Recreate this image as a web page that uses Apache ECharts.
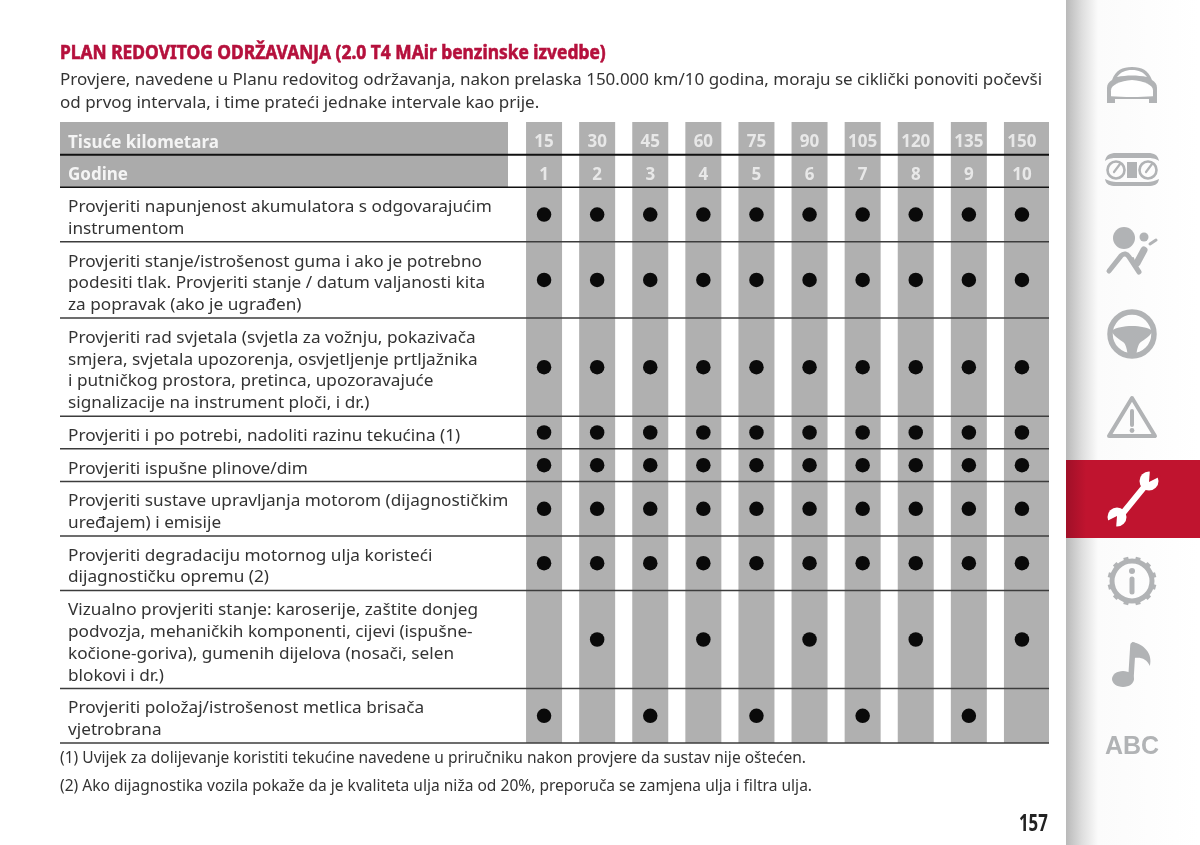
<!DOCTYPE html>
<html>
<head>
<meta charset="utf-8">
<title>Plan redovitog održavanja</title>
<script src="https://cdn.jsdelivr.net/npm/echarts@6/dist/echarts.min.js"></script>
<style>
    html, body { margin: 0; padding: 0; background: #fff; }
    #chart { width: 1200px; height: 845px; }
</style>
</head>
<body>
<div id="chart"></div>
<script>
const kmTicks = ["15", "30", "45", "60", "75", "90", "105", "120", "135", "150"];
const yearTicks = ["1", "2", "3", "4", "5", "6", "7", "8", "9", "10"];
const headerLabels = ["Tisuće kilometara", "Godine"];

const serviceLabels = [
    "Provjeriti napunjenost akumulatora s odgovarajućim\ninstrumentom",
    "Provjeriti stanje/istrošenost guma i ako je potrebno\npodesiti tlak. Provjeriti stanje / datum valjanosti kita\nza popravak (ako je ugrađen)",
    "Provjeriti rad svjetala (svjetla za vožnju, pokazivača\nsmjera, svjetala upozorenja, osvjetljenje prtljažnika\ni putničkog prostora, pretinca, upozoravajuće\nsignalizacije na instrument ploči, i dr.)",
    "Provjeriti i po potrebi, nadoliti razinu tekućina (1)",
    "Provjeriti ispušne plinove/dim",
    "Provjeriti sustave upravljanja motorom (dijagnostičkim\nuređajem) i emisije",
    "Provjeriti degradaciju motornog ulja koristeći\ndijagnostičku opremu (2)",
    "Vizualno provjeriti stanje: karoserije, zaštite donjeg\npodvozja, mehaničkih komponenti, cijevi (ispušne-\nkočione-goriva), gumenih dijelova (nosači, selen\nblokovi i dr.)",
    "Provjeriti položaj/istrošenost metlica brisača\nvjetrobrana"
];

// 1 = provjera u tom intervalu
const serviceMarks = [
    [1, 1, 1, 1, 1, 1, 1, 1, 1, 1],
    [1, 1, 1, 1, 1, 1, 1, 1, 1, 1],
    [1, 1, 1, 1, 1, 1, 1, 1, 1, 1],
    [1, 1, 1, 1, 1, 1, 1, 1, 1, 1],
    [1, 1, 1, 1, 1, 1, 1, 1, 1, 1],
    [1, 1, 1, 1, 1, 1, 1, 1, 1, 1],
    [1, 1, 1, 1, 1, 1, 1, 1, 1, 1],
    [0, 1, 0, 1, 0, 1, 0, 1, 0, 1],
    [1, 0, 1, 0, 1, 0, 1, 0, 1, 0]
];

const titleText = "PLAN REDOVITOG ODRŽAVANJA (2.0 T4 MAir benzinske izvedbe)";
const introLines = [
    "Provjere, navedene u Planu redovitog održavanja, nakon prelaska 150.000 km/10 godina, moraju se ciklički ponoviti počevši",
    "od prvog intervala, i time prateći jednake intervale kao prije."
];
const footnotes = [
    "(1) Uvijek za dolijevanje koristiti tekućine navedene u priručniku nakon provjere da sustav nije oštećen.",
    "(2) Ako dijagnostika vozila pokaže da je kvaliteta ulja niža od 20%, preporuča se zamjena ulja i filtra ulja."
];

const FONT = '"Noto Sans", sans-serif';
const BODY_FONT = "17px " + FONT;
const NAV_GREY = "#b1b3b5";
const NAV_RED = "#c0142f";

// y axis counts text lines: every row is its lines plus half a line of padding
const headerSpan = 1.5;
const rowSpans = serviceLabels.map(s => s.split("\n").length + 0.5);
const rowTops = [];
let runningTop = headerSpan * 2;
rowSpans.forEach(span => {
    rowTops.push(runningTop);
    runningTop += span;
});
const tableEnd = runningTop;

const dotData = [];
serviceMarks.forEach((marks, row) => {
    marks.forEach((on, col) => {
        if (on) dotData.push([col, rowTops[row] + rowSpans[row] / 2]);
    });
});

const TABLE_LEFT = 60;
const HEADER_RIGHT = 508;
const TABLE_RIGHT = 1049;
const LABEL_X = 68;

function renderColumn(params, api) {
    const col = api.value(0);
    const top = api.coord([col, 0]);
    const bottom = api.coord([col, tableEnd]);
    const left = top[0] - 18;
    const right = col === kmTicks.length - 1 ? TABLE_RIGHT : top[0] + 18;
    return {
        type: "rect",
        shape: { x: left, y: top[1], width: right - left, height: bottom[1] - top[1] },
        style: { fill: "#b0b0b0" }
    };
}

function renderHeaderBlock(params, api) {
    const top = api.coord([0, 0]);
    const bottom = api.coord([0, headerSpan * 2]);
    return {
        type: "rect",
        shape: { x: TABLE_LEFT, y: top[1], width: HEADER_RIGHT - TABLE_LEFT, height: bottom[1] - top[1] },
        style: { fill: "#ababab" }
    };
}

function renderRule(params, api) {
    const y = api.coord([0, api.value(0)])[1];
    const strong = params.dataIndex < 2;
    return {
        type: "line",
        shape: { x1: TABLE_LEFT, y1: y, x2: TABLE_RIGHT, y2: y },
        style: {
            stroke: strong ? "#111" : "#3c3c3c",
            lineWidth: params.dataIndex === 0 ? 2 : 1.5
        }
    };
}

function renderRowLabel(params, api) {
    const y = api.coord([0, api.value(0)])[1];
    return {
        type: "text",
        x: LABEL_X,
        y: y + 3.5,
        scaleX: 1.012,
        style: {
            text: serviceLabels[params.dataIndex],
            font: BODY_FONT,
            fill: "#333",
            lineHeight: 21.8,
            verticalAlign: "middle",
            align: "left"
        }
    };
}

function renderHeaderLabel(params, api) {
    const y = api.coord([0, api.value(0)])[1];
    return {
        type: "text",
        x: LABEL_X,
        y: y + 4.5,
        style: {
            text: headerLabels[params.dataIndex],
            font: "bold 17px " + FONT,
            fill: "#f4f4f4",
            verticalAlign: "middle",
            align: "left"
        }
    };
}

function headerTickSeries(ticks, rowIndex) {
    return {
        type: "scatter",
        symbolSize: 0,
        z: 6,
        silent: true,
        data: ticks.map((t, i) => [i, headerSpan * (rowIndex + 0.5)]),
        label: {
            show: true,
            position: "inside",
            offset: [0, 4],
            formatter: p => ticks[p.dataIndex],
            color: "#f6f6f6",
            fontFamily: FONT,
            fontWeight: "bold",
            fontSize: 17
        }
    };
}

function pageText(text, x, y, font, fill, scaleX, stroke) {
    return {
        type: "text",
        x: x,
        y: y,
        scaleX: scaleX || 1,
        style: {
            text: text,
            font: font,
            fill: fill,
            stroke: stroke || null,
            lineWidth: stroke ? 0.6 : 0,
            verticalAlign: "middle",
            align: "left"
        }
    };
}

function strokeStyle(color, width) {
    return { stroke: color, lineWidth: width, fill: "none", lineCap: "round", lineJoin: "round" };
}

function icon(d, x, y, w, h, style) {
    return { type: "path", shape: { pathData: d, layout: "cover", x: x, y: y, width: w, height: h }, style: style };
}

function circle(cx, cy, r, style) {
    return { type: "circle", shape: { cx: cx, cy: cy, r: r }, style: style };
}

function line(x1, y1, x2, y2, style) {
    return { type: "line", shape: { x1: x1, y1: y1, x2: x2, y2: y2 }, style: style };
}

function rect(x, y, w, h, fill) {
    return { type: "rect", shape: { x: x, y: y, width: w, height: h }, style: { fill: fill } };
}

function sidebarElements() {
    const grey = { fill: NAV_GREY };
    const items = [
        rect(1066, 0, 134, 845, new echarts.graphic.LinearGradient(0, 0, 1, 0, [
            { offset: 0, color: "#b9b9b9" },
            { offset: 0.12, color: "#dedede" },
            { offset: 0.24, color: "#fbfbfb" },
            { offset: 1, color: "#ffffff" }
        ])),
        rect(1066, 460, 134, 78, new echarts.graphic.LinearGradient(0, 0, 1, 0, [
            { offset: 0, color: "#a01028" },
            { offset: 0.15, color: NAV_RED },
            { offset: 1, color: NAV_RED }
        ]))
    ];

    // auto
    items.push(icon("M1107 103 L1107 88 C1107 84 1109 82 1112 80 C1116 70 1122 67 1132 67 C1142 67 1148 70 1152 80 C1155 82 1157 84 1157 88 L1157 103 L1149 103 L1149 99 L1115 99 L1115 103 Z", 1107, 67, 50, 36, grey));
    items.push(icon("M1117 77 C1121 72 1125 70 1132 70 C1139 70 1143 72 1147 77 C1138 75 1126 75 1117 77 Z", 1117, 70, 30, 7, { fill: "#fff" }));
    items.push(icon("M1111 90 C1111 85 1120 81 1132 80 C1144 81 1153 85 1153 90 L1153 96 C1140 97 1124 97 1111 96 Z", 1111, 80, 42, 17, { fill: "#fff" }));

    // instrumenti
    items.push(icon("M1105 161 C1106 155 1110 153 1116 153 L1148 153 C1154 153 1158 155 1159 161 C1155 158 1151 158 1148 158 L1116 158 C1113 158 1109 158 1105 161 Z", 1105, 153, 54, 8, grey));
    items.push(icon("M1105 179 C1106 185 1110 186 1116 186 L1148 186 C1154 186 1158 185 1159 179 C1155 181 1151 182 1148 182 L1116 182 C1113 182 1109 181 1105 179 Z", 1105, 179, 54, 7, grey));
    items.push(circle(1116, 170, 8.5, strokeStyle(NAV_GREY, 2.6)));
    items.push(circle(1148, 170, 8.5, strokeStyle(NAV_GREY, 2.6)));
    items.push(line(1114, 172, 1120, 164, strokeStyle(NAV_GREY, 2.2)));
    items.push(line(1146, 172, 1152, 164, strokeStyle(NAV_GREY, 2.2)));
    items.push(rect(1127, 162, 10, 16, NAV_GREY));

    // airbag
    items.push(circle(1124, 238, 11, grey));
    items.push(circle(1144, 237, 4.5, grey));
    items.push(icon("M1109 271 L1121 256 C1124 253 1127 254 1129 257 L1139 272", 1109, 254, 30, 18, strokeStyle(NAV_GREY, 5)));
    items.push(line(1137, 263, 1144, 250, strokeStyle(NAV_GREY, 7)));
    items.push(line(1133, 258, 1138, 272, strokeStyle(NAV_GREY, 2)));
    items.push(line(1150, 244, 1156, 240, strokeStyle(NAV_GREY, 3)));

    // volan
    items.push(circle(1132, 334, 22, strokeStyle(NAV_GREY, 5.5)));
    items.push(icon("M1112 331 C1120 325 1144 325 1152 331 C1152 336 1144 340 1140 343 C1137 347 1137 352 1136 356 L1128 356 C1127 352 1127 347 1124 343 C1120 340 1112 336 1112 331 Z", 1112, 326, 40, 30, grey));

    // upozorenje
    items.push(icon("M1132 398 L1155 436 L1109 436 Z", 1109, 398, 46, 38, strokeStyle(NAV_GREY, 4)));
    items.push(line(1132, 411, 1132, 425, strokeStyle(NAV_GREY, 4)));
    items.push(circle(1132, 430.5, 2.4, grey));

    // ključ
    items.push(line(1123, 513, 1145, 486, strokeStyle("#fff", 6)));
    items.push(circle(1149, 481, 9.5, { fill: "#fff" }));
    items.push(circle(1117, 517, 9.5, { fill: "#fff" }));
    items.push({ type: "polygon", shape: { points: [[1149, 482], [1150, 469], [1161, 476]] }, style: { fill: NAV_RED } });
    items.push({ type: "polygon", shape: { points: [[1117, 516], [1116, 529], [1105, 522]] }, style: { fill: NAV_RED } });

    // info zupčanik
    items.push(circle(1132, 581, 20, strokeStyle(NAV_GREY, 5)));
    for (let i = 0; i < 12; i++) {
        const a = i * Math.PI / 6 + Math.PI / 12;
        items.push(line(1132 + 21 * Math.cos(a), 581 + 21 * Math.sin(a), 1132 + 24.5 * Math.cos(a), 581 + 24.5 * Math.sin(a), {
            stroke: NAV_GREY, lineWidth: 5, lineCap: "butt"
        }));
    }
    items.push(circle(1132, 571, 3, grey));
    items.push(line(1132, 579, 1132, 592, strokeStyle(NAV_GREY, 5)));

    // audio
    items.push({ type: "ellipse", shape: { cx: 1123, cy: 679, rx: 11, ry: 8 }, style: grey });
    items.push(line(1131, 677, 1133, 645, strokeStyle(NAV_GREY, 5.5)));
    items.push(icon("M1132 642 C1143 644 1152 653 1149 666 C1146 659 1141 657 1134 658 Z", 1132, 642, 18.5, 24, grey));

    items.push({
        type: "text",
        x: 1132,
        y: 747,
        style: { text: "ABC", font: 'bold 25px "Liberation Sans", sans-serif', fill: NAV_GREY, align: "center", verticalAlign: "middle" }
    });
    return items;
}

function renderSidebar() {
    return { type: "group", children: sidebarElements() };
}

function buildPageTexts() {
    return [
        pageText(titleText, 60, 54, "bold 19px " + FONT, "#b5103c", 0.915, "#b5103c"),
        pageText(introLines[0], 60, 80, BODY_FONT, "#333", 1),
        pageText(introLines[1], 60, 103, BODY_FONT, "#333", 1),
        pageText(footnotes[0], 60, 758, BODY_FONT, "#333", 0.915),
        pageText(footnotes[1], 60, 786, BODY_FONT, "#333", 0.915),
        pageText("157", 1019, 824, "bold 24px " + FONT, "#222", 0.7)
    ];
}

function renderTable() {
    const dom = document.getElementById("chart");
    const chart = echarts.init(dom, null, { renderer: "canvas" });

    const ruleValues = [headerSpan, headerSpan * 2].concat(rowTops.slice(1), [tableEnd]).map(v => [v]);
    const labelCenters = rowTops.map((top, i) => [top + rowSpans[i] / 2]);
    const headerCenters = [[headerSpan * 0.5], [headerSpan * 1.5]];

    chart.setOption({
        animation: false,
        backgroundColor: "#ffffff",
        grid: { left: 517.5, top: 122, width: 531, height: 621 },
        xAxis: { type: "category", data: kmTicks, show: false },
        yAxis: { type: "value", min: 0, max: tableEnd, inverse: true, show: false },
        graphic: { elements: buildPageTexts() },
        series: [
            { type: "custom", name: "navigacija", renderItem: renderSidebar, data: [[0]], z: 1, silent: true },
            { type: "custom", name: "stupci", renderItem: renderColumn, data: kmTicks.map((t, i) => [i]), z: 1, silent: true },
            { type: "custom", name: "zaglavlje", renderItem: renderHeaderBlock, data: [[0]], z: 1, silent: true },
            { type: "custom", name: "linije", renderItem: renderRule, data: ruleValues, encode: { y: 0 }, z: 3, silent: true },
            { type: "custom", name: "opis", renderItem: renderRowLabel, data: labelCenters, encode: { y: 0 }, z: 4, silent: true },
            { type: "custom", name: "naslovi", renderItem: renderHeaderLabel, data: headerCenters, encode: { y: 0 }, z: 4, silent: true },
            headerTickSeries(kmTicks, 0),
            headerTickSeries(yearTicks, 1),
            {
                type: "scatter",
                name: "provjere",
                data: dotData,
                symbol: "circle",
                symbolSize: 14.5,
                itemStyle: { color: "#0a0a0a", opacity: 1 },
                z: 5,
                silent: true
            }
        ]
    });
}

renderTable();
</script>
</body>
</html>
